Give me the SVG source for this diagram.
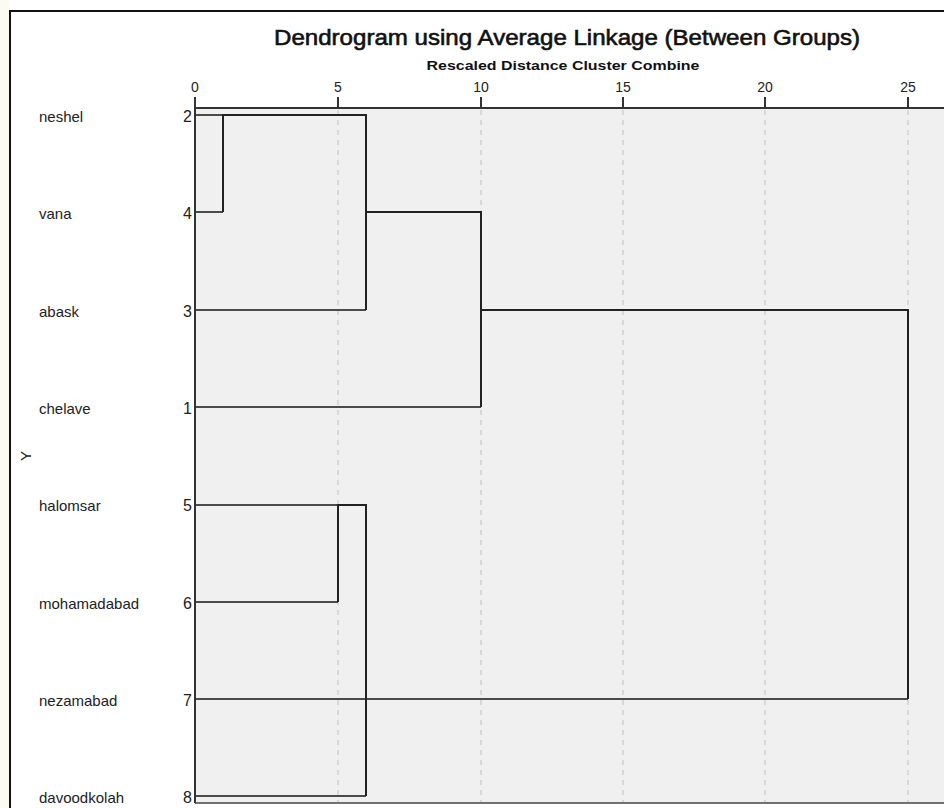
<svg xmlns="http://www.w3.org/2000/svg" width="944" height="808" viewBox="0 0 944 808">
<style>
.lbl{font-family:"Liberation Sans",Arial,sans-serif;font-size:15px;fill:#222}
.num{font-family:"Liberation Sans",Arial,sans-serif;font-size:16px;fill:#222;text-anchor:end}
.tick{font-family:"Liberation Sans",Arial,sans-serif;font-size:14px;fill:#222;text-anchor:middle}
.grid{stroke:#cfcfcf;stroke-width:1.5;stroke-dasharray:5,5;fill:none}
.leaf{stroke:#4a4a4a;stroke-width:2;fill:none}
.merge{stroke:#222;stroke-width:2;fill:none}
.axis{stroke:#333;stroke-width:2;fill:none}
</style>
<rect x="0" y="0" width="944" height="808" fill="#ffffff"/>
<rect x="0" y="0" width="9" height="808" fill="#fbfbf3"/>
<path d="M10,808 V11 H944" fill="none" stroke="#111" stroke-width="2"/>
<g id="title">
<text x="567" y="45" text-anchor="middle" font-family="Liberation Sans,Arial,sans-serif" font-size="22" fill="#111" textLength="586" lengthAdjust="spacingAndGlyphs" style="stroke:#111;stroke-width:0.6">Dendrogram using Average Linkage (Between Groups)</text>
<text x="563" y="70" text-anchor="middle" font-family="Liberation Sans,Arial,sans-serif" font-size="13" font-weight="bold" fill="#111" textLength="273" lengthAdjust="spacingAndGlyphs">Rescaled Distance Cluster Combine</text>
</g>
<g id="plot-area">
<rect x="195" y="108" width="749" height="695" fill="#f0f0f0"/>
<line class="grid" x1="338" y1="110" x2="338" y2="802"/>
<line class="grid" x1="481" y1="110" x2="481" y2="802"/>
<line class="grid" x1="623" y1="110" x2="623" y2="802"/>
<line class="grid" x1="765" y1="110" x2="765" y2="802"/>
<line class="grid" x1="908" y1="110" x2="908" y2="802"/>
<line x1="195" y1="803" x2="944" y2="803" stroke="#444" stroke-width="1.5"/>
</g>
<g id="axis">
<line class="axis" x1="195" y1="108" x2="944" y2="108"/>
<line class="axis" x1="195" y1="97" x2="195" y2="803"/>
<line class="axis" x1="338" y1="97" x2="338" y2="108"/>
<line class="axis" x1="481" y1="97" x2="481" y2="108"/>
<line class="axis" x1="623" y1="97" x2="623" y2="108"/>
<line class="axis" x1="765" y1="97" x2="765" y2="108"/>
<line class="axis" x1="908" y1="97" x2="908" y2="108"/>
<text class="tick" x="195" y="92">0</text>
<text class="tick" x="338" y="92">5</text>
<text class="tick" x="481" y="92">10</text>
<text class="tick" x="623" y="92">15</text>
<text class="tick" x="765" y="92">20</text>
<text class="tick" x="908" y="92">25</text>
</g>
<text x="0" y="0" transform="translate(31,456) rotate(-90)" text-anchor="middle" font-family="Liberation Sans,Arial,sans-serif" font-size="15" fill="#222">Y</text>
<g id="leaf-neshel"><text class="lbl" x="39" y="122">neshel</text><text class="num" x="192" y="122">2</text></g>
<g id="leaf-vana"><text class="lbl" x="39" y="219">vana</text><text class="num" x="192" y="219">4</text></g>
<g id="leaf-abask"><text class="lbl" x="39" y="317">abask</text><text class="num" x="192" y="317">3</text></g>
<g id="leaf-chelave"><text class="lbl" x="39" y="414">chelave</text><text class="num" x="192" y="414">1</text></g>
<g id="leaf-halomsar"><text class="lbl" x="39" y="511">halomsar</text><text class="num" x="192" y="511">5</text></g>
<g id="leaf-mohamadabad"><text class="lbl" x="39" y="609">mohamadabad</text><text class="num" x="192" y="609">6</text></g>
<g id="leaf-nezamabad"><text class="lbl" x="39" y="706">nezamabad</text><text class="num" x="192" y="706">7</text></g>
<g id="leaf-davoodkolah"><text class="lbl" x="39" y="803">davoodkolah</text><text class="num" x="192" y="803">8</text></g>
<g id="connectors">
<line class="leaf" x1="196" y1="115" x2="223" y2="115"/>
<line class="leaf" x1="196" y1="212" x2="223" y2="212"/>
<line class="leaf" x1="196" y1="310" x2="366" y2="310"/>
<line class="leaf" x1="196" y1="407" x2="481" y2="407"/>
<line class="leaf" x1="196" y1="505" x2="338" y2="505"/>
<line class="leaf" x1="196" y1="602" x2="338" y2="602"/>
<line class="leaf" x1="196" y1="699" x2="908" y2="699"/>
<line class="leaf" x1="196" y1="796" x2="366" y2="796"/>
<path class="merge" d="M223,212 V115 H366 V310"/>
<path class="merge" d="M366,212 H481 V407"/>
<path class="merge" d="M481,310 H908 V699"/>
<path class="merge" d="M338,602 V505 H366 V796"/>
</g>
</svg>
